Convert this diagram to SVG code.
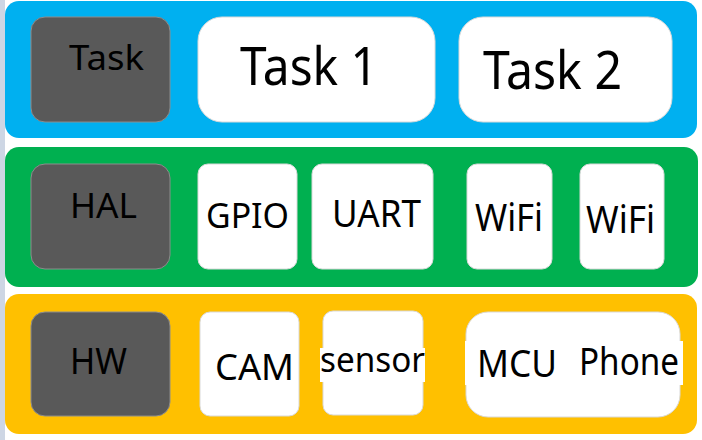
<svg xmlns="http://www.w3.org/2000/svg" width="702" height="440" viewBox="0 0 702 440">
<style>
.band{stroke:none}
.dark{fill:#595959;stroke:#8c8c8c;stroke-width:1}
.box{fill:#ffffff;stroke:#d9d9d9;stroke-width:1}
text{font-family:"Noto Sans","Open Sans","DejaVu Sans",sans-serif;fill:#000000}
</style>
<rect x="0" y="0" width="702" height="440" fill="#ffffff"/>
<rect x="0" y="0" width="5" height="440" fill="#cdd6e4"/>
<g id="layer-task">
<rect class="band" x="5" y="1" width="692" height="137" rx="14" fill="#00b0f0"/>
</g>
<g id="layer-hal">
<rect class="band" x="5" y="147" width="693" height="140" rx="14" fill="#00b050"/>
</g>
<g id="layer-hw">
<rect class="band" x="5" y="294" width="692" height="140" rx="14" fill="#ffc000"/>
</g>
<g id="node-task-label">
<rect class="dark" x="31" y="17" width="139" height="105" rx="14"/>
<text x="69" y="70" font-size="34" textLength="75" lengthAdjust="spacingAndGlyphs">Task</text>
</g>
<g id="node-task1">
<rect class="box" x="198" y="17" width="237" height="105" rx="24"/>
<text x="240" y="85" font-size="52" textLength="138" lengthAdjust="spacingAndGlyphs">Task 1</text>
</g>
<g id="node-task2">
<rect class="box" x="459" y="17" width="213" height="105" rx="24"/>
<text x="483" y="89" font-size="52" textLength="139" lengthAdjust="spacingAndGlyphs">Task 2</text>
</g>
<g id="node-hal-label">
<rect class="dark" x="31" y="164" width="139" height="105" rx="14"/>
<text x="70" y="218" font-size="35" textLength="67" lengthAdjust="spacingAndGlyphs">HAL</text>
</g>
<g id="node-gpio">
<rect class="box" x="198" y="164" width="99" height="105" rx="10"/>
<text x="206" y="228" font-size="35" textLength="83" lengthAdjust="spacingAndGlyphs">GPIO</text>
</g>
<g id="node-uart">
<rect class="box" x="312" y="164" width="121" height="105" rx="10"/>
<text x="332" y="227" font-size="38" textLength="89" lengthAdjust="spacingAndGlyphs">UART</text>
</g>
<g id="node-wifi1">
<rect class="box" x="467" y="164" width="85" height="105" rx="10"/>
<text x="475" y="231" font-size="38" textLength="68" lengthAdjust="spacingAndGlyphs">WiFi</text>
</g>
<g id="node-wifi2">
<rect class="box" x="580" y="164" width="84" height="105" rx="10"/>
<text x="586" y="233" font-size="38" textLength="69" lengthAdjust="spacingAndGlyphs">WiFi</text>
</g>
<g id="node-hw-label">
<rect class="dark" x="31" y="312" width="139" height="104" rx="14"/>
<text x="70" y="374" font-size="36" textLength="57" lengthAdjust="spacingAndGlyphs">HW</text>
</g>
<g id="node-cam">
<rect class="box" x="200" y="312" width="99" height="104" rx="10"/>
<text x="215" y="380" font-size="36" textLength="79" lengthAdjust="spacingAndGlyphs">CAM</text>
</g>
<g id="node-sensor">
<rect class="box" x="323" y="311" width="100" height="104" rx="10"/>
<rect x="320" y="348" width="105" height="34" fill="#ffffff"/>
<text x="320" y="372" font-size="35" textLength="105" lengthAdjust="spacingAndGlyphs">sensor</text>
</g>
<g id="node-mcu-phone">
<rect class="box" x="466" y="312" width="214" height="105" rx="22"/>
<rect x="465" y="341" width="218" height="44" fill="#ffffff"/>
<text x="477" y="377" font-size="38" textLength="80" lengthAdjust="spacingAndGlyphs">MCU</text>
<text x="579" y="375" font-size="38" textLength="100" lengthAdjust="spacingAndGlyphs">Phone</text>
</g>
<g id="connectors"/>
</svg>
